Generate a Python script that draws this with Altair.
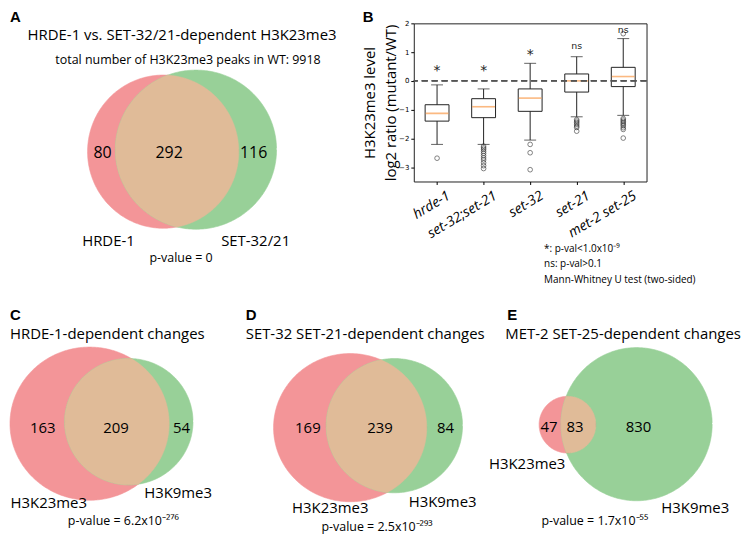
import altair as alt
import numpy as np
import pandas as pd

# ------------------------------------------------------------------ data
# Panel A
a_title = "HRDE-1 vs. SET-32/21-dependent H3K23me3"
a_subtitle = "total number of H3K23me3 peaks in WT: 9918"
a_sets = ["HRDE-1", "SET-32/21"]
a_counts = ["80", "292", "116"]
a_pvalue = "p-value = 0"

# Panel B (box statistics)
b_cats = ["hrde-1", "set-32;set-21", "set-32", "set-21", "met-2 set-25"]
b_whislo = [-2.21, -2.21, -2.06, -1.25, -1.20]
b_q1 = [-1.40, -1.28, -1.06, -0.39, -0.20]
b_med = [-1.13, -0.90, -0.60, 0.00, 0.15]
b_q3 = [-0.83, -0.62, -0.28, 0.24, 0.47]
b_whishi = [-0.14, -0.28, 0.61, 0.84, 1.47]
b_outliers = {
    "hrde-1": [-2.69],
    "set-32;set-21": [-2.27, -2.33, -2.38, -2.45, -2.52, -2.60, -2.68, -2.75, -2.85, -2.95, -3.05],
    "set-32": [-2.21, -2.50, -3.09],
    "set-21": [-1.35, -1.40, -1.45, -1.51, -1.57, -1.62, -1.75],
    "met-2 set-25": [-1.31, -1.36, -1.41, -1.46, -1.51, -1.56, -1.63, -1.69, -1.99, 1.64],
}
b_sig = ["*", "*", "*", "ns", "ns"]
b_sig_at = [0.43, 0.43, 1.00, 1.21, 1.78]
b_axis_title = ["H3K23me3 level", "log2 ratio (mutant/WT)"]
b_notes = ["*:  p-val<1.0x10\u207b\u2079", "ns: p-val>0.1", "Mann-Whitney U test (two-sided)"]

# Panels C, D, E
cde_titles = ["HRDE-1-dependent changes", "SET-32 SET-21-dependent changes",
              "MET-2 SET-25-dependent changes"]
cde_counts = [["163", "209", "54"], ["169", "239", "84"], ["47", "83", "830"]]
cde_sets = ["H3K23me3", "H3K9me3"]
cde_pvalues = ["p-value = 6.2x10\u207b\u00b2\u2077\u2076",
               "p-value = 2.5x10\u207b\u00b2\u2079\u00b3",
               "p-value = 1.7x10\u207b\u2075\u2075"]
panel_letters = ["A", "B", "C", "D", "E"]

# ------------------------------------------------------------------ layout (page pixels)
RED, GREEN, MIX = "#f39598", "#98d098", "#e0bb98"
ORANGE = "#f99b4c"
FONT = "Open Sans"
BOLD = "Liberation Sans"

# big pixel layer (everything except the box plot); marks may overflow its right edge
P_X0, P_Y0, P_W, P_H = 8, 8, 406, 522
B_X0, B_Y0, B_W, B_H = 414, 21, 234, 159

# ellipses (cx, cy, rx, ry)
a_ell = [(162, 150, 76, 77), (195, 148, 81, 80)]
cde_ell = [
    [(88, 423.5, 80, 77), (127.5, 421.5, 64.5, 63.5)],
    [(350, 427.5, 77, 74.5), (394.5, 425.5, 68.5, 67.5)],
    [(568.5, 424.5, 28.5, 28.5), (638, 424, 76, 77)],
]
a_count_pos = [(101, 151), (168, 151), (253, 151)]
a_set_pos = [(107, 240), (255, 240)]
a_p_pos = (180, 257)
cde_count_pos = [
    [(41, 428), (114.5, 428), (180.5, 428)],
    [(307.5, 428), (380, 428), (446, 428)],
    [(550, 427), (576, 427), (640, 427)],
]
cde_set_pos = [
    [(47, 503), (177, 493)],
    [(330, 508), (443, 502)],
    [(528, 464), (697, 508)],
]
cde_p_pos = [(122, 521), (377, 527), (596, 521)]
cde_title_pos = [(8, 333), (245, 333), (506, 333)]
cde_letter_pos = [(8, 314), (245, 314), (508, 314)]
notes_pos = [(545, 248), (545, 263), (545, 279)]


def px_enc(x0, y0, w, h):
    X = alt.X("x:Q", scale=alt.Scale(domain=[x0, x0 + w], nice=False, zero=False), axis=None)
    Y = alt.Y("y:Q", scale=alt.Scale(domain=[y0, y0 + h], nice=False, zero=False, reverse=True),
              axis=None)
    return X, Y


def ellipse_pts(e, n):
    cx, cy, rx, ry = e
    t = np.linspace(0, 2 * np.pi, n, endpoint=False)
    return cx + rx * np.cos(t), cy + ry * np.sin(t)


def inside(x, y, e):
    cx, cy, rx, ry = e
    return ((x - cx) / rx) ** 2 + ((y - cy) / ry) ** 2 <= 1.0


def venn_rows(panel, e1, e2):
    rows = []
    for name, e in (("s1", e1), ("s2", e2)):
        xs, ys = ellipse_pts(e, 360)
        rows += [dict(panel=panel, shape=name, i=k, x=a, y=b) for k, (a, b) in enumerate(zip(xs, ys))]
    x1, y1 = ellipse_pts(e1, 1440)
    x2, y2 = ellipse_pts(e2, 1440)
    m1, m2 = inside(x1, y1, e2), inside(x2, y2, e1)
    lx = np.concatenate([x1[m1], x2[m2]])
    ly = np.concatenate([y1[m1], y2[m2]])
    ang = np.arctan2(ly - ly.mean(), lx - lx.mean())
    o = np.argsort(ang)
    rows += [dict(panel=panel, shape="lens", i=k, x=a, y=b) for k, (a, b) in enumerate(zip(lx[o], ly[o]))]
    return rows


def venn_layers(df, X, Y):
    out = []
    for shape, col in (("s1", RED), ("s2", GREEN), ("lens", MIX)):
        out.append(
            alt.Chart(df[df["shape"] == shape]).mark_line(fill=col, stroke=col, strokeWidth=0.6)
            .encode(x=X, y=Y, detail="panel:N", order=alt.Order("i:Q"))
        )
    return out


def text_layer(items, X, Y, **kw):
    df = pd.DataFrame([dict(x=p[0], y=p[1], t=t) for t, p in items])
    return alt.Chart(df).mark_text(**kw).encode(x=X, y=Y, text="t:N")


# ------------------------------------------------------------------ Venn panels A, C, D, E
PX, PY = px_enc(P_X0, P_Y0, P_W, P_H)
rows = venn_rows("A", *a_ell)
for k, name in enumerate(["C", "D", "E"]):
    rows += venn_rows(name, *cde_ell[k])
venn_df = pd.DataFrame(rows)

layers = venn_layers(venn_df, PX, PY)
layers += [
    text_layer([(panel_letters[0], (8, 8))], PX, PY, font=BOLD, fontWeight="bold", fontSize=15,
               align="left", baseline="top", color="black"),
    text_layer([(a_title, (181, 33))], PX, PY, font=FONT, fontSize=15, color="black"),
    text_layer([(a_subtitle, (187, 58))], PX, PY, font=FONT, fontSize=12.5, color="black"),
    text_layer(list(zip(a_counts, a_count_pos)), PX, PY, font=FONT, fontSize=16, color="black"),
    text_layer(list(zip(a_sets, a_set_pos)), PX, PY, font=FONT, fontSize=15, color="black"),
    text_layer([(a_pvalue, a_p_pos)], PX, PY, font=FONT, fontSize=12.5, color="black"),
    text_layer(list(zip(b_notes, notes_pos)), PX, PY, font=FONT, fontSize=10, align="left",
               color="black"),
    text_layer(list(zip(panel_letters[2:], cde_letter_pos)), PX, PY, font=BOLD, fontWeight="bold",
               fontSize=15, align="left", color="black"),
    text_layer(list(zip(cde_titles, cde_title_pos)), PX, PY, font=FONT, fontSize=15, align="left",
               color="black"),
]
for k in range(3):
    layers.append(text_layer(list(zip(cde_counts[k], cde_count_pos[k])), PX, PY, font=FONT,
                             fontSize=15, color="black"))
    layers.append(text_layer(list(zip(cde_sets, cde_set_pos[k])), PX, PY, font=FONT, fontSize=15,
                             color="black"))
layers.append(text_layer(list(zip(cde_pvalues, cde_p_pos)), PX, PY, font=FONT, fontSize=12.5,
                         color="black"))
venn_panel = alt.layer(*layers).properties(width=P_W, height=P_H)

# ------------------------------------------------------------------ panel B
SX, SY = px_enc(B_X0, P_Y0, B_W, B_Y0 - P_Y0)
spacer = text_layer([(panel_letters[1], (368, 8))], SX, SY, font=BOLD, fontWeight="bold",
                    fontSize=15, baseline="top", color="black").properties(width=B_W, height=B_Y0 - P_Y0)

box_df = pd.DataFrame(dict(cat=b_cats, lo=b_whislo, q1=b_q1, med=b_med, q3=b_q3, hi=b_whishi))
out_df = pd.DataFrame([dict(cat=c, v=v) for c in b_cats for v in b_outliers[c]])
sig_df = pd.DataFrame(dict(cat=b_cats, s=b_sig, sy=b_sig_at))

x_axis = alt.Axis(title=None, labelAngle=-31, labelAlign="right", labelBaseline="top",
                  labelFont=FONT, labelFontStyle="italic", labelFontSize=14, labelColor="black",
                  labelOffset=8, labelPadding=4, tickSize=3, tickColor="black", domain=False)
y_axis = alt.Axis(title=b_axis_title, values=[-3, -2, -1, 0, 1, 2], tickSize=3, tickColor="black",
                  labelFont="DejaVu Sans", labelFontSize=7, labelColor="black", labelPadding=2,
                  domain=False, grid=False, titleFont=FONT, titleFontSize=15,
                  titleFontWeight="normal", titleColor="black", titlePadding=0, titleLineHeight=21)
bx = alt.X("cat:N", sort=b_cats, scale=alt.Scale(type="point", padding=0.5), axis=x_axis)
ysc = alt.Scale(domain=[-3.5, 2], nice=False, zero=False)


def yq(field):
    return alt.Y(field, type="quantitative", scale=ysc, axis=y_axis)


DARK = "#222222"
whisk = alt.Chart(box_df).mark_rule(color=DARK, strokeWidth=1).encode(x=bx, y=yq("lo"), y2="hi:Q")
boxes = alt.Chart(box_df).mark_bar(size=24, fill="white", stroke=DARK, strokeWidth=1).encode(
    x=bx, y=yq("q1"), y2="q3:Q")
cap_lo = alt.Chart(box_df).mark_tick(size=12, thickness=1, color=DARK).encode(x=bx, y=yq("lo"))
cap_hi = alt.Chart(box_df).mark_tick(size=12, thickness=1, color=DARK).encode(x=bx, y=yq("hi"))
meds = alt.Chart(box_df).mark_tick(size=23, thickness=1.6, color=ORANGE).encode(x=bx, y=yq("med"))
zero = alt.Chart(box_df).mark_rule(color="#555555", strokeWidth=1, strokeDash=[6, 4]).encode(
    y=alt.datum(0, scale=ysc, axis=y_axis))
outs = alt.Chart(out_df).mark_point(shape="circle", filled=False, size=22, color=DARK,
                                     strokeWidth=0.8).encode(x=bx, y=yq("v"))
stars = alt.Chart(sig_df[sig_df["s"] == "*"]).mark_text(font="DejaVu Sans", fontSize=14, dy=3,
                                                         color=DARK).encode(x=bx, y=yq("sy"), text="s:N")
ns = alt.Chart(sig_df[sig_df["s"] == "ns"]).mark_text(font="DejaVu Sans", fontSize=9.5,
                                                       color=DARK).encode(x=bx, y=yq("sy"), text="s:N")
panelB = alt.layer(whisk, boxes, cap_lo, cap_hi, meds, outs, zero, stars, ns).properties(
    width=B_W, height=B_H, view=alt.ViewBackground(stroke=DARK, strokeWidth=1))

# ------------------------------------------------------------------ assemble
b_column = alt.vconcat(spacer, panelB, spacing=0, bounds="flush")
chart = alt.hconcat(venn_panel, b_column, spacing=0, bounds="flush").properties(
    padding=0, background="white"
).configure_view(stroke="transparent")

chart.save("out.html", embed_options={"renderer": "svg", "actions": False})
